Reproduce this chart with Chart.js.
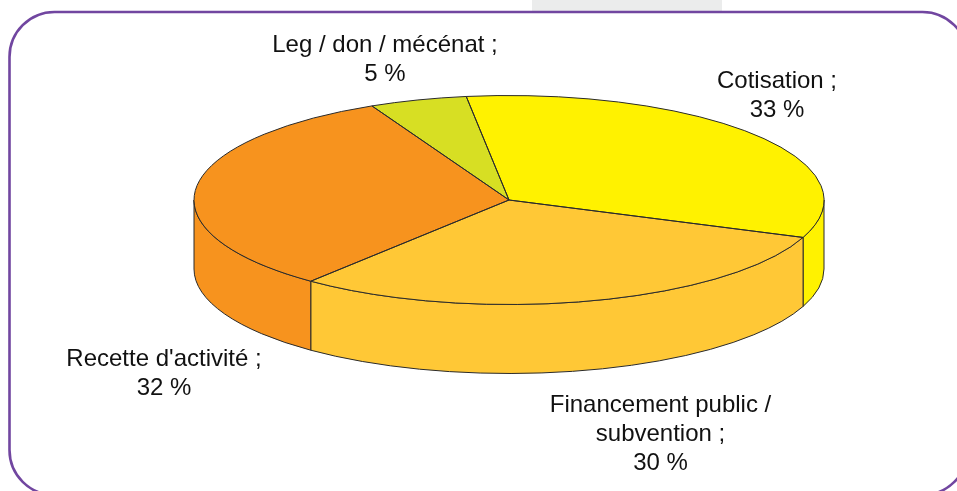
<!DOCTYPE html>
<html>
<head>
<meta charset="utf-8">
<style>html,body{margin:0;padding:0;background:#fff;overflow:hidden}canvas{display:block}</style>
<script src="https://cdn.jsdelivr.net/npm/chart.js@4/dist/chart.umd.min.js"></script>
</head>
<body>
<canvas id="c" width="957" height="491"></canvas>
<script>
const categories = ["Cotisation", "Financement public / subvention", "Recette d'activité", "Leg / don / mécénat"];
const values = [33, 30, 32, 5];
const sliceColors = ["#FFF200", "#FFC836", "#F7931E", "#D7DF23"];
const labelLines = [["Cotisation ;"], ["Financement public /", "subvention ;"], ["Recette d'activité ;"], ["Leg / don / mécénat ;"]];

const view = {cx: 509, cy: 200, rx: 315, ry: 104.5, depth: 69};
const labelAnchors = [[777, 88], [660.5, 412], [164, 366], [385, 52]];
const lineHeight = 29;

const pie3d = {
  id: 'pie3d',
  beforeDraw(chart) {
    const ctx = chart.ctx;
    ctx.save();
    ctx.fillStyle = '#EBECEC';
    ctx.fillRect(532, 0, 190, 11);
    ctx.strokeStyle = '#7146A0';
    ctx.lineWidth = 2.6;
    ctx.beginPath();
    ctx.roundRect(9.5, 12, 958, 483, 45);
    ctx.stroke();
    ctx.restore();
  },
  beforeDatasetsDraw(chart) {
    const ctx = chart.ctx;
    const arcs = chart.getDatasetMeta(0).data;
    ctx.save();
    ctx.lineWidth = 1;
    ctx.strokeStyle = '#2a2a2a';
    arcs.forEach((arc, i) => {
      const a = Math.max(arc.startAngle, 0);
      const b = Math.min(arc.endAngle, Math.PI);
      if (b <= a) return;
      ctx.beginPath();
      ctx.ellipse(view.cx, view.cy, view.rx, view.ry, 0, a, b);
      ctx.lineTo(view.cx + view.rx * Math.cos(b), view.cy + view.ry * Math.sin(b) + view.depth);
      ctx.ellipse(view.cx, view.cy + view.depth, view.rx, view.ry, 0, b, a, true);
      ctx.closePath();
      ctx.fillStyle = sliceColors[i];
      ctx.fill();
      ctx.stroke();
    });
    ctx.restore();
    const first = arcs[0];
    ctx.save();
    ctx.translate(view.cx, view.cy);
    ctx.scale(view.rx / first.outerRadius, view.ry / first.outerRadius);
    ctx.translate(-first.x, -first.y);
  },
  afterDatasetsDraw(chart) {
    const ctx = chart.ctx;
    ctx.restore();
    const arcs = chart.getDatasetMeta(0).data;
    ctx.save();
    ctx.lineWidth = 1;
    ctx.strokeStyle = '#2a2a2a';
    arcs.forEach(arc => {
      ctx.beginPath();
      ctx.moveTo(view.cx, view.cy);
      ctx.ellipse(view.cx, view.cy, view.rx, view.ry, 0, arc.startAngle, arc.endAngle);
      ctx.closePath();
      ctx.stroke();
    });
    ctx.restore();
  },
  afterDraw(chart) {
    const ctx = chart.ctx;
    ctx.save();
    ctx.fillStyle = '#111';
    ctx.font = '24px "Liberation Sans", Arial, sans-serif';
    ctx.textAlign = 'center';
    ctx.textBaseline = 'alphabetic';
    labelLines.forEach((lines, i) => {
      const [x, y] = labelAnchors[i];
      const all = lines.concat([values[i] + ' %']);
      all.forEach((t, k) => ctx.fillText(t, x, y + k * lineHeight));
    });
    ctx.restore();
  }
};

new Chart(document.getElementById('c'), {
  type: 'pie',
  data: {
    labels: categories,
    datasets: [{data: values, backgroundColor: sliceColors, borderWidth: 0, clip: false}]
  },
  options: {
    responsive: false,
    animation: false,
    radius: 315,
    rotation: -7.8,
    events: [],
    layout: {padding: 0},
    plugins: {legend: {display: false}, tooltip: {enabled: false}, title: {display: false}}
  },
  plugins: [pie3d]
});
</script>
</body>
</html>
